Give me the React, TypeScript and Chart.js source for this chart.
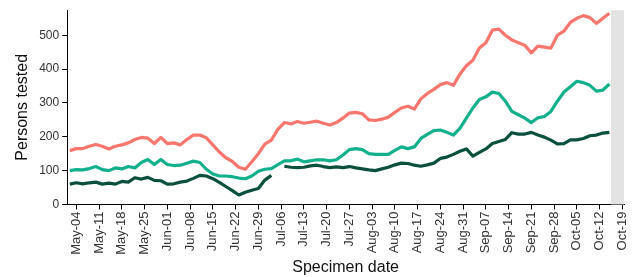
import React, { useEffect, useRef } from "react";
import { Chart, registerables } from "chart.js";

Chart.register(...registerables);

// Day offsets from May-04 (sampled every 2 days)
const DAYS: number[] = [];
for (let d = -2; d <= 164; d += 2) DAYS.push(d);

const TESTED_TOTAL = [
  159, 165, 165, 172, 177, 172, 164, 172, 176, 182, 192, 198, 196, 180, 198, 180, 182, 176, 192, 205,
  205, 197, 176, 155, 138, 127, 110, 104, 126, 150, 178, 190, 222, 242, 238, 245, 240, 243, 246, 240,
  235, 242, 255, 270, 272, 268, 250, 248, 252, 258, 272, 285, 290, 282, 312, 328, 340, 354, 360, 352,
  385, 410, 426, 462, 478, 515, 518, 500, 486, 478, 470, 448, 468, 465, 462, 500, 512, 538, 550, 558,
  552, 535, 550, 565,
];

const TESTED_MID = [
  100, 103, 102, 106, 112, 103, 100, 108, 105, 112, 108, 124, 133, 118, 133, 118, 115, 116, 122, 128,
  124, 104, 90, 84, 84, 82, 78, 76, 84, 98, 104, 106, 118, 129, 129, 134, 126, 129, 132, 132,
  129, 132, 146, 162, 165, 162, 150, 148, 148, 148, 160, 170, 165, 170, 195, 207, 218, 220, 213, 205,
  225, 255, 285, 310, 318, 332, 328, 305, 275, 265, 255, 242, 256, 260, 275, 305, 332, 348, 364, 360,
  352, 335, 338, 356,
];

const TESTED_LOW: (number | null)[] = [
  60, 64, 61, 64, 66, 60, 63, 60, 68, 66, 79, 75, 80, 71, 70, 60, 61, 66, 69, 77,
  86, 84, 76, 65, 53, 41, 28, 36, 42, 47, 72, 86, null, 113, 110, 109, 110, 114, 116, 112,
  109, 111, 109, 112, 108, 105, 102, 100, 105, 110, 117, 122, 121, 116, 113, 117, 122, 136, 140, 148,
  157, 164, 143, 154, 164, 180, 186, 192, 212, 208, 208, 213, 205, 199, 190, 179, 180, 191, 191, 195,
  203, 205, 211, 213,
];

const X_TICK_LABELS = [
  "May-04", "May-11", "May-18", "May-25", "Jun-01", "Jun-08", "Jun-15", "Jun-22", "Jun-29",
  "Jul-06", "Jul-13", "Jul-20", "Jul-27", "Aug-03", "Aug-10", "Aug-17", "Aug-24", "Aug-31",
  "Sep-07", "Sep-14", "Sep-21", "Sep-28", "Oct-05", "Oct-12", "Oct-19",
];
const Y_TICKS = [0, 100, 200, 300, 400, 500];

const X_MIN = -2.8;
const X_MAX = 168.5;
const Y_MAX = 574;
const SHADE_START = 164.5;

const COLORS = ["#F8766D", "#12B08C", "#0B4F3D"];
const FONT = "'Liberation Sans', Arial, sans-serif";

const shadePlugin = {
  id: "shade",
  beforeDatasetsDraw(chart: any) {
    const { ctx, chartArea, scales } = chart;
    const x0 = scales.x.getPixelForValue(SHADE_START);
    const x1 = scales.x.getPixelForValue(X_MAX);
    ctx.save();
    ctx.fillStyle = "#E3E3E3";
    ctx.fillRect(x0, chartArea.top, x1 - x0, chartArea.bottom - chartArea.top);
    ctx.restore();
  },
};

export default function App() {
  const ref = useRef<HTMLCanvasElement | null>(null);
  useEffect(() => {
    if (!ref.current) return;
    const mk = (vals: (number | null)[]) => DAYS.map((d, i) => ({ x: d, y: vals[i] }));
    const chart = new Chart(ref.current, {
      type: "line",
      data: {
        datasets: [
          { data: mk(TESTED_TOTAL), borderColor: COLORS[0] },
          { data: mk(TESTED_MID), borderColor: COLORS[1] },
          { data: mk(TESTED_LOW), borderColor: COLORS[2] },
        ] as any,
      },
      options: {
        animation: false,
        responsive: false,
        spanGaps: false,
        layout: { padding: { top: 8, right: 4, left: 13, bottom: 0 } },
        elements: {
          point: { radius: 0 },
          line: { borderWidth: 3.2, tension: 0, borderJoinStyle: "round" },
        },
        plugins: { legend: { display: false }, tooltip: { enabled: false } },
        scales: {
          x: {
            type: "linear",
            min: X_MIN,
            max: X_MAX,
            afterBuildTicks: (s: any) => {
              s.ticks = X_TICK_LABELS.map((_, i) => ({ value: i * 7 }));
            },
            ticks: {
              autoSkip: false,
              maxRotation: 90,
              minRotation: 90,
              color: "#333",
              font: { size: 13, family: FONT },
              padding: 2,
              callback: (_v: any, i: number) => X_TICK_LABELS[i],
            },
            grid: { drawOnChartArea: false, color: "#000", tickLength: 5 },
            border: { display: true, color: "#000", width: 1 },
            title: {
              display: true,
              text: "Specimen date",
              color: "#111",
              font: { size: 16, family: FONT },
              padding: { top: 1, bottom: 0 },
            },
          },
          y: {
            min: 0,
            max: Y_MAX,
            afterBuildTicks: (s: any) => {
              s.ticks = Y_TICKS.map((v) => ({ value: v }));
            },
            ticks: {
              color: "#333",
              font: { size: 12, family: FONT },
              padding: 3,
            },
            grid: { drawOnChartArea: false, color: "#000", tickLength: 5 },
            border: { display: true, color: "#000", width: 1 },
            title: {
              display: true,
              text: "Persons tested",
              color: "#111",
              font: { size: 16, family: FONT },
              padding: { top: 0, bottom: 4 },
            },
          },
        },
      },
      plugins: [shadePlugin],
    });
    return () => chart.destroy();
  }, []);
  return (
    <div style={{ position: "absolute", left: 0, top: 0, width: 640, height: 277, background: "#fff" }}>
      <canvas ref={ref} width={640} height={277} />
    </div>
  );
}
